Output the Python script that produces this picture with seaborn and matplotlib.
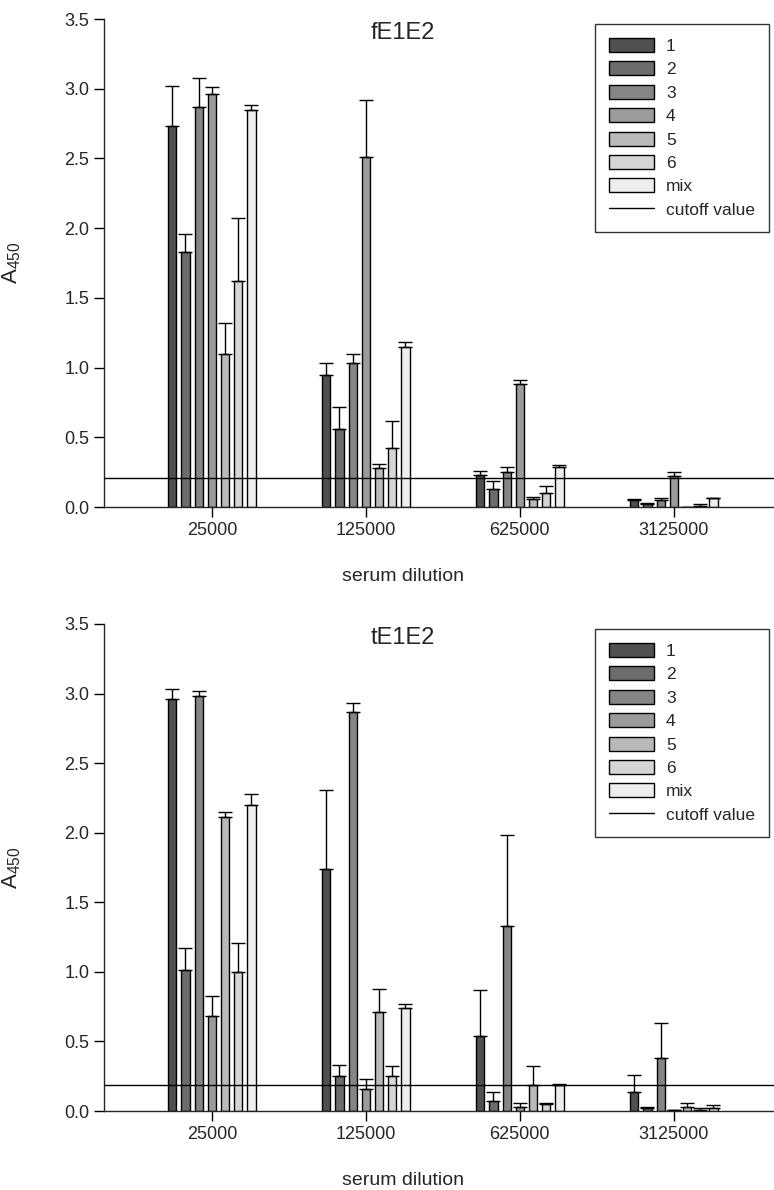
import seaborn as sns
import matplotlib.pyplot as plt
import matplotlib.patches as mpatches
import matplotlib.lines as mlines
import pandas as pd
import numpy as np

# --- data ---
dilutions = ["25000", "125000", "625000", "3125000"]
sera = ["1", "2", "3", "4", "5", "6", "mix"]
grays = ["#505050", "#6c6c6c", "#858585", "#9b9b9b", "#b9b9b9", "#d5d5d5", "#eeeeee"]

# fE1E2: one row per dilution, one column per serum
fe_values = [[2.73, 1.83, 2.87, 2.96, 1.10, 1.62, 2.85],
             [0.95, 0.56, 1.03, 2.51, 0.28, 0.42, 1.15],
             [0.23, 0.13, 0.25, 0.88, 0.06, 0.10, 0.29],
             [0.05, 0.02, 0.05, 0.22, 0.00, 0.01, 0.065]]
fe_err = [[0.29, 0.13, 0.21, 0.05, 0.22, 0.45, 0.03],
          [0.08, 0.16, 0.07, 0.41, 0.03, 0.20, 0.03],
          [0.03, 0.06, 0.04, 0.03, 0.01, 0.05, 0.01],
          [0.01, 0.01, 0.015, 0.03, 0.00, 0.01, 0.003]]
fe_cutoff = 0.21

# tE1E2
te_values = [[2.96, 1.01, 2.98, 0.685, 2.11, 1.00, 2.20],
             [1.74, 0.25, 2.87, 0.16, 0.71, 0.25, 0.74],
             [0.54, 0.07, 1.33, 0.03, 0.19, 0.05, 0.19],
             [0.14, 0.02, 0.38, 0.005, 0.03, 0.01, 0.02]]
te_err = [[0.07, 0.16, 0.04, 0.145, 0.04, 0.21, 0.08],
          [0.57, 0.08, 0.06, 0.07, 0.17, 0.07, 0.03],
          [0.33, 0.07, 0.65, 0.03, 0.13, 0.01, 0.005],
          [0.12, 0.01, 0.25, 0.00, 0.03, 0.01, 0.02]]
te_cutoff = 0.19

# --- styling ---
sns.set_style("ticks")
plt.rcParams["font.family"] = ["Liberation Sans", "DejaVu Sans"]
plt.rcParams["mathtext.default"] = "regular"
plt.rcParams["axes.linewidth"] = 1.0


def to_long(values):
    rows = []
    for i, d in enumerate(dilutions):
        for j, s in enumerate(sera):
            rows.append({"dilution": d, "serum": s, "A450": values[i][j]})
    return pd.DataFrame(rows)


def draw_panel(ax, values, errs, cutoff, title):
    df = to_long(values)
    sns.barplot(data=df, x="dilution", y="A450", hue="serum",
                order=dilutions, hue_order=sera, palette=grays,
                width=0.6, gap=0.38, errorbar=None, edgecolor="black",
                linewidth=1.0, saturation=1, legend=False, ax=ax)

    # upper-only error bars on top of each bar
    bar_conts = list(ax.containers)
    for j, cont in enumerate(bar_conts):
        for i, bar in enumerate(cont.patches):
            x = bar.get_x() + bar.get_width() / 2
            h = bar.get_height()
            ax.errorbar(x, h, yerr=[[0], [errs[i][j]]], fmt="none",
                        ecolor="black", elinewidth=1.0, capsize=5.2,
                        capthick=1.0, zorder=1)

    ax.axhline(cutoff, color="black", linewidth=1.0, zorder=3)

    ax.set_xlim(-0.70, 3.65)
    ax.set_ylim(0, 3.5)
    ax.set_yticks(np.arange(0, 3.51, 0.5))
    ax.set_yticklabels([f"{v:.1f}" for v in np.arange(0, 3.51, 0.5)])
    ax.tick_params(axis="both", labelsize=13, length=7, width=1.0,
                   direction="out", color="black")
    sns.despine(ax=ax)

    ax.set_xlabel("serum dilution", fontsize=14)
    ax.xaxis.set_label_coords(0.446, -0.125)
    ax.set_ylabel("A$_{450}$", fontsize=16)
    ax.yaxis.set_label_coords(-0.121, 0.5)
    ax.text(0.446, 0.971, title, transform=ax.transAxes, ha="center",
            va="center", fontsize=17)

    handles = [mpatches.Patch(facecolor=c, edgecolor="black", linewidth=1.0, label=s)
               for c, s in zip(grays, sera)]
    handles.append(mlines.Line2D([], [], color="black", linewidth=1.0,
                                 label="cutoff value"))
    leg = ax.legend(handles=handles, loc="upper right",
                    bbox_to_anchor=(1.0, 1.0), borderaxespad=0.3,
                    fontsize=12.5, frameon=True, fancybox=False,
                    edgecolor="black", handlelength=2.6, handleheight=0.85,
                    labelspacing=0.43, handletextpad=0.7, borderpad=0.8)
    leg.get_frame().set_linewidth(1.0)


fig = plt.figure(figsize=(7.74, 11.9), dpi=100)
ax_top = fig.add_axes([104 / 774, 1 - 507 / 1190, 670 / 774, 488 / 1190])
ax_bot = fig.add_axes([104 / 774, 1 - 1111 / 1190, 670 / 774, 487 / 1190])

draw_panel(ax_top, fe_values, fe_err, fe_cutoff, "fE1E2")
draw_panel(ax_bot, te_values, te_err, te_cutoff, "tE1E2")

fig.savefig("out.png", dpi=100)
plt.close(fig)
